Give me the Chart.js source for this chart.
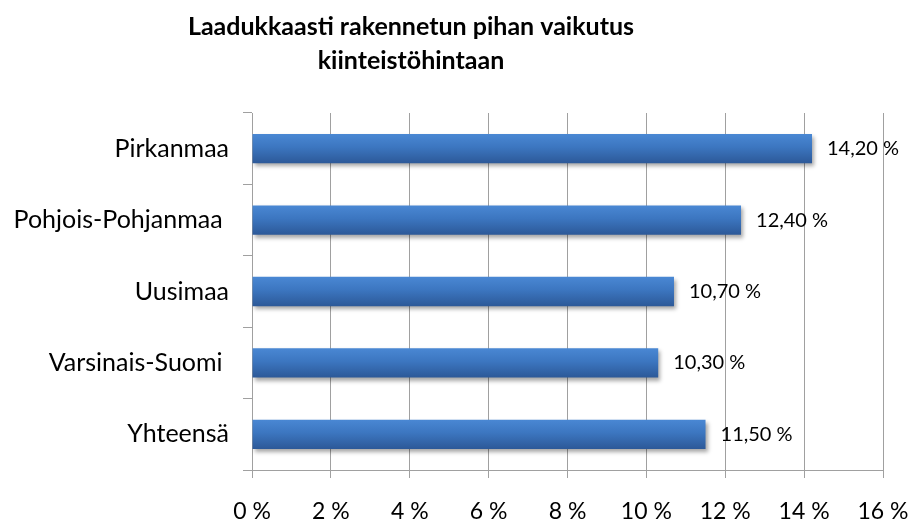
<!doctype html>
<html>
<head>
<meta charset="UTF-8">
<title>Laadukkaasti rakennetun pihan vaikutus kiinteistöhintaan</title>
<script src="https://cdn.jsdelivr.net/npm/chart.js@4.4.1/dist/chart.umd.min.js"></script>
<style>
  html, body { margin: 0; padding: 0; background: #fff; }
  #wrap { width: 915px; height: 527px; }
</style>
</head>
<body>
<div id="wrap"><canvas id="canvas"></canvas></div>
<script>
// data
var alueet = ['Pirkanmaa', 'Pohjois-Pohjanmaa ', 'Uusimaa', 'Varsinais-Suomi ', 'Yhteensä'];
var vaikutus = [14.2, 12.4, 10.7, 10.3, 11.5];
var otsikko = ['Laadukkaasti rakennetun pihan vaikutus', 'kiinteistöhintaan'];
var xMin = 0, xMax = 16, xStep = 2;

var fontti = 'Lato, "Open Sans", sans-serif';

function pilkku(v, des) {
  return v.toFixed(des).replace('.', ',') + ' %';
}

// bar gradient, light on top and darker at the bottom
function palkkiVari(c) {
  var chart = c.chart;
  var y = chart.scales && chart.scales.y;
  if (!y || !chart.chartArea) return '#3a6fb8';
  var mid = y.getPixelForValue(c.dataIndex);
  var g = chart.ctx.createLinearGradient(0, mid - 15, 0, mid + 15);
  g.addColorStop(0, '#4a88d4');
  g.addColorStop(0.45, '#3c76c0');
  g.addColorStop(1, '#2c5897');
  return g;
}

var varjo = {
  id: 'varjo',
  beforeDatasetsDraw: function(chart) {
    var ctx = chart.ctx;
    ctx.save();
    ctx.shadowColor = 'rgba(0,0,0,0.35)';
    ctx.shadowBlur = 4;
    ctx.shadowOffsetX = 2;
    ctx.shadowOffsetY = 3;
  },
  afterDatasetsDraw: function(chart) {
    chart.ctx.restore();
  }
};

// title is drawn a bit left of the canvas centre, like in the original
var otsikkoPlugin = {
  id: 'otsikko',
  afterDraw: function(chart) {
    var ctx = chart.ctx;
    ctx.save();
    ctx.font = 'bold 25px ' + fontti;
    ctx.fillStyle = '#000';
    ctx.textAlign = 'center';
    ctx.textBaseline = 'middle';
    ctx.fillText(otsikko[0], 411, 27);
    ctx.fillText(otsikko[1], 411, 61);
    ctx.restore();
  }
};

var arvot = {
  id: 'arvot',
  afterDraw: function(chart) {
    var ctx = chart.ctx;
    var meta = chart.getDatasetMeta(0);
    ctx.save();
    ctx.font = '20px ' + fontti;
    ctx.fillStyle = '#000';
    ctx.textAlign = 'left';
    ctx.textBaseline = 'middle';
    meta.data.forEach(function(bar, i) {
      ctx.fillText(pilkku(vaikutus[i], 2), bar.x + 15, bar.y);
    });
    ctx.restore();
  }
};

var ctx = document.getElementById('canvas').getContext('2d');
new Chart(ctx, {
  type: 'bar',
  data: {
    labels: alueet,
    datasets: [{
      data: vaikutus,
      backgroundColor: palkkiVari,
      borderWidth: 0,
      barPercentage: 0.41,
      categoryPercentage: 1
    }]
  },
  options: {
    indexAxis: 'y',
    responsive: true,
    maintainAspectRatio: false,
    animation: false,
    layout: { padding: { left: 8, right: 32, top: 113, bottom: 0 } },
    plugins: {
      legend: { display: false },
      tooltip: { enabled: false },
      title: { display: false }
    },
    scales: {
      x: {
        min: xMin,
        max: xMax,
        ticks: {
          stepSize: xStep,
          color: '#000',
          font: { family: fontti, size: 23 },
          padding: 20,
          maxRotation: 0,
          callback: function(v) { return v + ' %'; }
        },
        grid: { color: '#a0a0a0', lineWidth: 1, tickLength: 8 },
        border: { color: '#a0a0a0' },
        afterFit: function(s) { s.height = 57; s.paddingLeft = 0; s.paddingRight = 0; }
      },
      y: {
        ticks: {
          color: '#000',
          font: { family: fontti, size: 25 },
          padding: 14
        },
        grid: { drawOnChartArea: false, color: '#a0a0a0', tickLength: 9, offset: true },
        border: { color: '#a0a0a0' },
        afterFit: function(s) { s.width = 244; s.paddingTop = 0; s.paddingBottom = 0; }
      }
    }
  },
  plugins: [varjo, arvot, otsikkoPlugin]
});
</script>
</body>
</html>
